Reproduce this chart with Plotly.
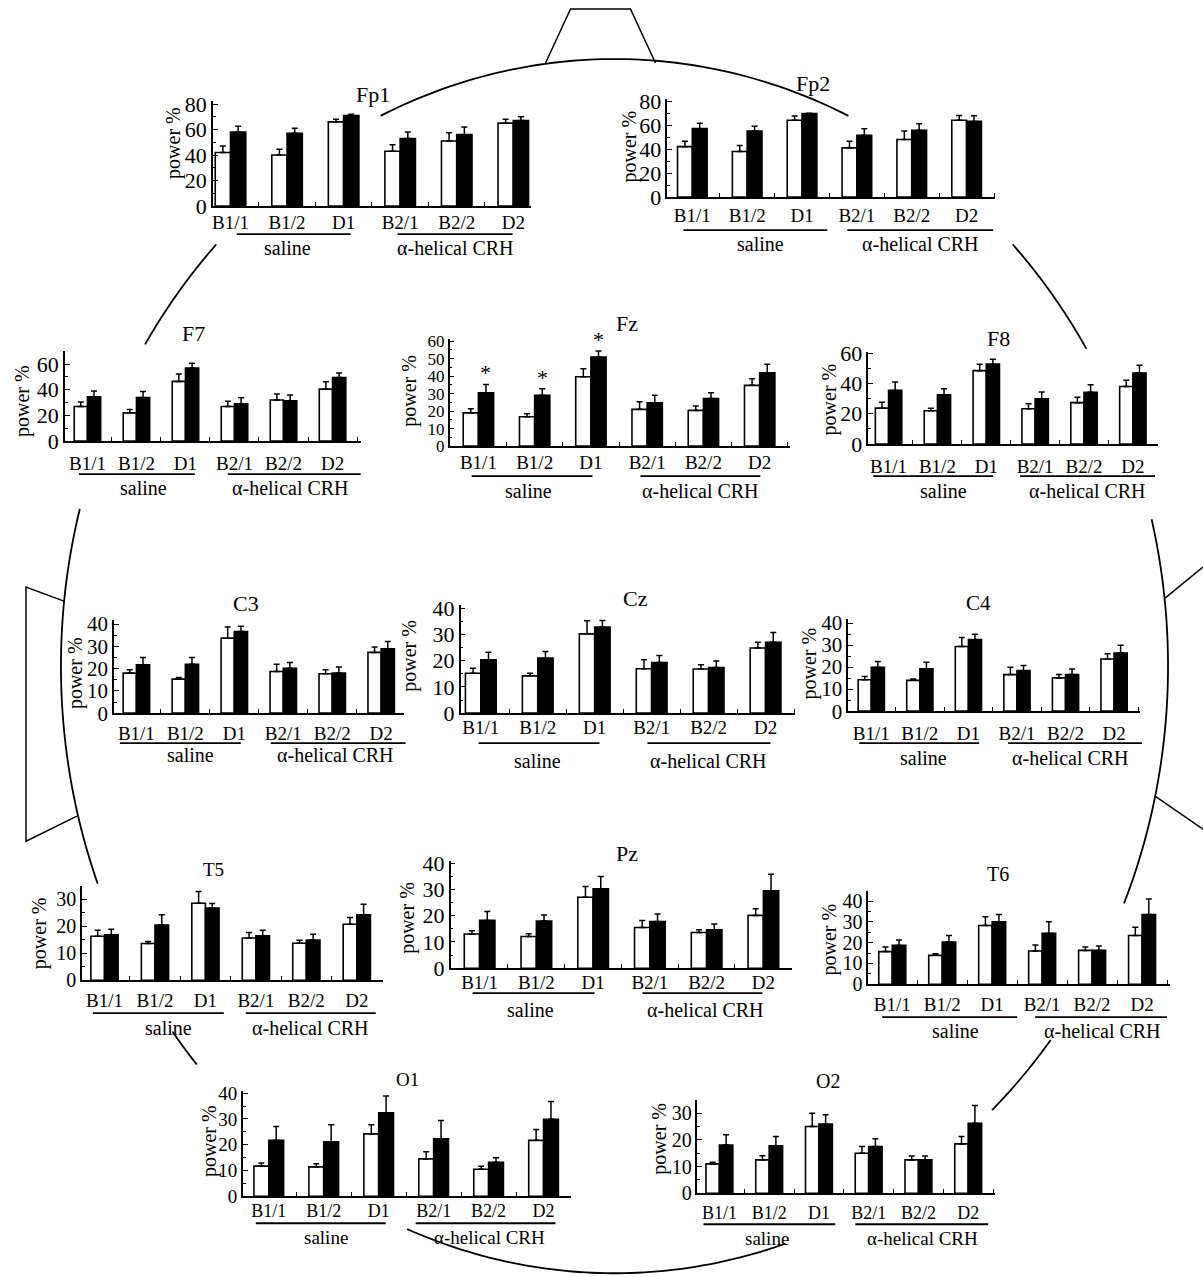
import numpy as np
import plotly.graph_objects as go

W, H = 1203, 1277
categories = ["B1/1", "B1/2", "D1", "B2/1", "B2/2", "D2"]
group_names = ["saline", "α-helical CRH"]

# ---- data (open = white bars, filled = black bars); errors are upward SEM ----
fp1_open = [42, 40, 66, 43, 51, 65]
fp1_open_err = [5, 4.5, 2, 5, 6.5, 3]
fp1_filled = [58, 57, 71, 53, 56, 67]
fp1_filled_err = [4.5, 4, 1, 5, 6, 3]

fp2_open = [42, 38, 64, 41, 48, 64]
fp2_open_err = [4.5, 5, 3.5, 5.5, 7, 4]
fp2_filled = [57, 55, 69.5, 51.5, 55.7, 63]
fp2_filled_err = [4.5, 4, 0.3, 5.3, 5.3, 4.8]

f7_open = [27, 22, 46.5, 27, 32, 40.5]
f7_open_err = [3.5, 2.6, 5.7, 4, 4.7, 5.7]
f7_filled = [34.5, 34, 57, 29, 31.3, 49.6]
f7_filled_err = [4.5, 4.6, 3.7, 4.8, 4.7, 3.4]

fz_open = [19, 16.8, 39.6, 21, 20.4, 34.7]
fz_open_err = [2.3, 1.7, 4.6, 4.3, 2.5, 3.8]
fz_filled = [30.5, 29, 50.9, 24.8, 27.2, 41.9]
fz_filled_err = [4.7, 3.8, 3.4, 4.3, 3.3, 4.8]
fz_significant = [True, True, True, False, False, False]

f8_open = [23.7, 22, 48.4, 23.3, 27.3, 38]
f8_open_err = [3.8, 1.7, 4.3, 3.3, 3.5, 4]
f8_filled = [35.4, 32.5, 52.7, 29.9, 34.1, 46.8]
f8_filled_err = [5.5, 4, 3.3, 4.4, 5, 5.1]

c3_open = [18, 15.3, 33.7, 18.7, 17.7, 27.3]
c3_open_err = [1.5, 0.7, 5, 3.3, 1.8, 2.4]
c3_filled = [21.7, 22, 36.7, 20.2, 18, 28.9]
c3_filled_err = [3.3, 3, 2.3, 2.6, 2.7, 3.3]

cz_open = [15.2, 14.2, 30.2, 16.9, 16.8, 24.8]
cz_open_err = [1.9, 1, 5, 3.4, 1.6, 2.2]
cz_filled = [20.3, 21, 32.8, 19.3, 17.4, 27]
cz_filled_err = [2.9, 2.5, 2.5, 2.7, 2.5, 3.7]

c4_open = [14.3, 14, 29.4, 16.6, 15.1, 23.7]
c4_open_err = [1.5, 0.6, 4.1, 3.4, 1.5, 2.4]
c4_filled = [19.9, 19.3, 32.5, 18.4, 16.6, 26.4]
c4_filled_err = [2.7, 2.9, 2.5, 2.3, 2.6, 3.5]

t5_open = [16.3, 13.6, 28.5, 15.6, 13.7, 20.7]
t5_open_err = [2.2, 0.7, 4.3, 2.1, 1.1, 2.5]
t5_filled = [16.8, 20.4, 26.7, 16.4, 14.9, 24.2]
t5_filled_err = [2.1, 3.8, 1.7, 2.1, 2.1, 3.9]

pz_open = [13, 12.1, 27, 15.5, 13.6, 20.1]
pz_open_err = [1.3, 1, 4.1, 2.7, 1, 2.5]
pz_filled = [18.2, 18, 30.2, 17.8, 14.6, 29.5]
pz_filled_err = [3.4, 2.3, 4.7, 2.8, 2.2, 6.3]

t6_open = [15.7, 13.9, 28.3, 16, 16.3, 23.5]
t6_open_err = [2.2, 0.8, 4.2, 2.9, 1.6, 4]
t6_filled = [18.7, 20.3, 30.1, 24.5, 16.3, 33.6]
t6_filled_err = [2.6, 3.2, 3.5, 5.6, 2.1, 7.5]

o1_open = [11.7, 11.4, 24.2, 14.5, 10.5, 21.7]
o1_open_err = [1.2, 1.2, 3.6, 2.8, 1.1, 4.2]
o1_filled = [21.7, 21.1, 32.4, 22.3, 13.2, 29.9]
o1_filled_err = [5.4, 6.7, 6.5, 7.1, 1.7, 6.9]

o2_open = [11, 12.5, 25, 15, 12.5, 18.5]
o2_open_err = [0.6, 1.6, 5, 2.5, 1.5, 2.75]
o2_filled = [18.1, 17.75, 25.9, 17.5, 12.5, 26.25]
o2_filled_err = [3.8, 3.5, 3.5, 2.9, 1.5, 6.65]

# ---- panel layout (pixel geometry of each small chart) ----
panels = [
    dict(name="Fp1", d=(fp1_open, fp1_open_err, fp1_filled, fp1_filled_err),
         L=212, R=530, Y0=205, YT=103, T=80, ymax=82, dtick=20, minor=10, c0=229.7, s=56.6,
         title=(372, 93), lab_y=222, ul_y=233, grp_y=247, sal=(236, 350), crh=(397, 512),
         sal_x=287, crh_x=455, ylab=(172, 142), tfs=22, yfs=22, cfs=19),
    dict(name="Fp2", d=(fp2_open, fp2_open_err, fp2_filled, fp2_filled_err),
         L=667, R=995, Y0=196, YT=100, T=80, ymax=82, dtick=20, minor=10, c0=691.9, s=54.9,
         title=(813, 82), lab_y=215, ul_y=229, grp_y=243, sal=(683, 827), crh=(847, 993),
         sal_x=760, crh_x=920, ylab=(629, 145), tfs=22, yfs=22, cfs=19),
    dict(name="F7", d=(f7_open, f7_open_err, f7_filled, f7_filled_err),
         L=64, R=360, Y0=440, YT=363, T=60, ymax=70, dtick=20, minor=10, c0=86.5, s=49.06,
         title=(193, 332), lab_y=463, ul_y=473, grp_y=487, sal=(78, 194), crh=(227, 360),
         sal_x=143, crh_x=290, ylab=(21, 400), tfs=22, yfs=22, cfs=19),
    dict(name="Fz", d=(fz_open, fz_open_err, fz_filled, fz_filled_err),
         L=449, R=790, Y0=445, YT=340, T=60, ymax=61, dtick=10, minor=5, c0=477.8, s=56.3,
         title=(627, 322), lab_y=462, ul_y=475, grp_y=490, sal=(471, 592), crh=(640, 760),
         sal_x=528, crh_x=700, ylab=(408, 390), tfs=22, yfs=17, cfs=19),
    dict(name="F8", d=(f8_open, f8_open_err, f8_filled, f8_filled_err),
         L=868, R=1158, Y0=443, YT=352, T=60, ymax=61, dtick=20, minor=10, c0=888.3, s=48.9,
         title=(998, 337), lab_y=465, ul_y=475, grp_y=490, sal=(873, 993), crh=(1020, 1155),
         sal_x=943, crh_x=1087, ylab=(829, 398), tfs=22, yfs=22, cfs=19),
    dict(name="C3", d=(c3_open, c3_open_err, c3_filled, c3_filled_err),
         L=113, R=403, Y0=712, YT=623, T=40, ymax=42, dtick=10, minor=5, c0=135.5, s=49,
         title=(245, 602), lab_y=732, ul_y=742, grp_y=754, sal=(119, 240), crh=(270, 405),
         sal_x=190, crh_x=335, ylab=(74, 672), tfs=22, yfs=21, cfs=19),
    dict(name="Cz", d=(cz_open, cz_open_err, cz_filled, cz_filled_err),
         L=460, R=795, Y0=712, YT=607, T=40, ymax=41, dtick=10, minor=5, c0=480.2, s=57,
         title=(635, 597), lab_y=727, ul_y=742, grp_y=760, sal=(478, 599), crh=(647, 770),
         sal_x=537, crh_x=708, ylab=(408, 655), tfs=22, yfs=22, cfs=19),
    dict(name="C4", d=(c4_open, c4_open_err, c4_filled, c4_filled_err),
         L=848, R=1140, Y0=710, YT=622, T=40, ymax=42, dtick=10, minor=5, c0=871, s=48.6,
         title=(978, 602), lab_y=732, ul_y=742, grp_y=757, sal=(859, 979), crh=(1008, 1142),
         sal_x=923, crh_x=1070, ylab=(809, 662), tfs=21, yfs=21, cfs=19),
    dict(name="T5", d=(t5_open, t5_open_err, t5_filled, t5_filled_err),
         L=81, R=382, Y0=979, YT=898, T=30, ymax=35, dtick=10, minor=5, c0=103.6, s=50.5,
         title=(213, 868), lab_y=1000, ul_y=1012, grp_y=1027, sal=(92, 223), crh=(245, 375),
         sal_x=168, crh_x=310, ylab=(38, 932), tfs=19, yfs=20, cfs=19),
    dict(name="Pz", d=(pz_open, pz_open_err, pz_filled, pz_filled_err),
         L=450, R=792, Y0=967, YT=862, T=40, ymax=41, dtick=10, minor=5, c0=479, s=56.8,
         title=(627, 852), lab_y=982, ul_y=992, grp_y=1009, sal=(472, 594), crh=(642, 762),
         sal_x=530, crh_x=705, ylab=(407, 917), tfs=22, yfs=22, cfs=19),
    dict(name="T6", d=(t6_open, t6_open_err, t6_filled, t6_filled_err),
         L=868, R=1170, Y0=983, YT=900, T=40, ymax=45, dtick=10, minor=5, c0=892, s=50,
         title=(998, 873), lab_y=1004, ul_y=1016, grp_y=1030, sal=(882, 1017), crh=(1035, 1167),
         sal_x=955, crh_x=1102, ylab=(829, 938), tfs=20, yfs=20, cfs=19),
    dict(name="O1", d=(o1_open, o1_open_err, o1_filled, o1_filled_err),
         L=242, R=570, Y0=1195, YT=1092, T=40, ymax=41, dtick=10, minor=5, c0=268, s=55,
         title=(407, 1078), lab_y=1210, ul_y=1222, grp_y=1236, sal=(255, 385), crh=(415, 555),
         sal_x=325, crh_x=489, ylab=(208, 1140), tfs=19, yfs=19, cfs=18),
    dict(name="O2", d=(o2_open, o2_open_err, o2_filled, o2_filled_err),
         L=697, R=995, Y0=1192, YT=1112, T=30, ymax=35, dtick=10, minor=5, c0=719, s=49.8,
         title=(828, 1080), lab_y=1212, ul_y=1223, grp_y=1237, sal=(703, 835), crh=(855, 988),
         sal_x=767, crh_x=922, ylab=(659, 1137), tfs=20, yfs=20, cfs=18),
]

FONT = "Liberation Serif, Times New Roman, serif"

# vertical placement calibration of the rendered page (offset, scale)
VA, VB = 10.0, 0.981


def px(x):
    return x / W


def py(y):
    return 1 - ((y - VA) / VB) / H


fig = go.Figure()
layout = dict(
    width=W, height=H, margin=dict(l=0, r=0, t=0, b=0, pad=0), autosize=False,
    paper_bgcolor="white", plot_bgcolor="rgba(0,0,0,0)",
    showlegend=False, barmode="overlay", font=dict(family=FONT, color="black"),
)
annotations = []
shapes = []
BW = 0.27


def ptext(text, x, y, size, angle=0):
    return dict(text=text, x=px(x), y=py(y), xref="paper", yref="paper",
                xanchor="center", yanchor="middle", textangle=angle, showarrow=False,
                font=dict(family=FONT, size=size, color="black"))


for i, p in enumerate(panels, start=1):
    sfx = "" if i == 1 else str(i)
    xa, ya = "x" + sfx, "y" + sfx
    op, ope, fi, fie = p["d"]
    zeros = [0] * len(categories)
    fig.add_trace(go.Bar(
        x=categories, y=op, xaxis=xa, yaxis=ya, width=BW, offset=-BW,
        marker=dict(color="white", line=dict(color="black", width=1.6)),
        error_y=dict(type="data", array=ope, arrayminus=zeros, symmetric=False,
                     color="black", thickness=1.5, width=3),
        hoverinfo="skip"))
    fig.add_trace(go.Bar(
        x=categories, y=fi, xaxis=xa, yaxis=ya, width=BW, offset=0,
        marker=dict(color="black", line=dict(color="black", width=1.6)),
        error_y=dict(type="data", array=fie, arrayminus=zeros, symmetric=False,
                     color="black", thickness=1.5, width=3),
        hoverinfo="skip"))

    ppu = (p["Y0"] - p["YT"]) / p["T"]
    ytop = p["Y0"] - p["ymax"] * ppu
    xr = [(p["L"] - p["c0"]) / p["s"], (p["R"] - p["c0"]) / p["s"]]
    stand = int(round(p["lab_y"] - p["Y0"] - 0.5 * p["cfs"] - 9))
    layout["xaxis" + sfx] = dict(
        domain=[px(p["L"]), px(p["R"])], anchor=ya, type="category",
        categoryorder="array", categoryarray=categories,
        range=xr, showline=True, linecolor="black", linewidth=1.5,
        ticks="inside", tickson="boundaries", ticklen=4, tickwidth=1.2, tickcolor="black",
        tickfont=dict(family=FONT, size=p["cfs"], color="black"),
        ticklabelstandoff=stand, showgrid=False, zeroline=False, fixedrange=True)
    layout["yaxis" + sfx] = dict(
        domain=[py(p["Y0"]), py(ytop)], anchor=xa, range=[0, p["ymax"]],
        showline=True, linecolor="black", linewidth=1.5,
        tickmode="linear", tick0=0, dtick=p["dtick"],
        ticks="inside", ticklen=5, tickwidth=1.2, tickcolor="black",
        minor=dict(dtick=p["minor"], ticks="inside", ticklen=3, tickcolor="black", tickwidth=1),
        tickfont=dict(family=FONT, size=p["yfs"], color="black"),
        showgrid=False, zeroline=False, fixedrange=True)

    annotations.append(ptext(p["name"], *p["title"], p["tfs"]))
    annotations.append(ptext("power %", *p["ylab"], 20, angle=-90))
    for (x1, x2), gx, gname in ((p["sal"], p["sal_x"], group_names[0]),
                                (p["crh"], p["crh_x"], group_names[1])):
        shapes.append(dict(type="line", xref="paper", yref="paper",
                           x0=px(x1), x1=px(x2), y0=py(p["ul_y"]), y1=py(p["ul_y"]),
                           line=dict(color="black", width=1.8)))
        annotations.append(ptext(gname, gx, p["grp_y"], p["cfs"] + 1))
    if p["name"] == "Fz":
        for k, sig in enumerate(fz_significant):
            if sig:
                annotations.append(dict(text="*", x=k + BW / 2, y=fi[k] + fie[k], xref=xa, yref=ya,
                                        xanchor="center", yanchor="bottom", yshift=-3, showarrow=False,
                                        font=dict(family=FONT, size=22, color="black")))

# ---- head outline (decorative) ----
CX, CY, A, B = 614, 665, 554, 607
arc_ranges = [(65, 115), (136, 148), (31.5, 44), (165, 201), (-23, 14),
              (217, 221), (-47, -38), (248, 288)]


def arc_path(t0, t1):
    th = np.radians(np.linspace(t0, t1, 60))
    xs = CX + A * np.cos(th)
    ys = CY - B * np.sin(th)
    pts = [f"{px(x):.5f},{py(y):.5f}" for x, y in zip(xs, ys)]
    return "M" + " L".join(pts)


for t0, t1 in arc_ranges:
    shapes.append(dict(type="path", xref="paper", yref="paper", path=arc_path(t0, t1),
                       line=dict(color="black", width=1.8)))


def poly_path(pts):
    return "M" + " L".join(f"{px(x):.5f},{py(y):.5f}" for x, y in pts)


shapes.append(dict(type="path", xref="paper", yref="paper",
                   path=poly_path([(545, 62), (570, 8), (630, 8), (655, 62)]),
                   line=dict(color="black", width=1.5)))
shapes.append(dict(type="path", xref="paper", yref="paper",
                   path=poly_path([(63, 600), (25, 586), (25, 840), (76, 815)]),
                   line=dict(color="black", width=1.5)))
shapes.append(dict(type="path", xref="paper", yref="paper",
                   path=poly_path([(1165, 597), (1203, 566)]),
                   line=dict(color="black", width=1.5)))
shapes.append(dict(type="path", xref="paper", yref="paper",
                   path=poly_path([(1155, 795), (1203, 828)]),
                   line=dict(color="black", width=1.5)))

layout["annotations"] = annotations
layout["shapes"] = shapes
fig.update_layout(**layout)

pin_js = ("document.documentElement.style.margin='0';document.body.style.margin='0';"
          "document.body.style.overflow='hidden';document.documentElement.style.overflow='hidden';"
          "var g=document.getElementById('{plot_id}');g.style.position='absolute';"
          "g.style.left='0px';g.style.top='0px';")
fig.write_html("out.html", post_script=pin_js, config={"displayModeBar": False})
